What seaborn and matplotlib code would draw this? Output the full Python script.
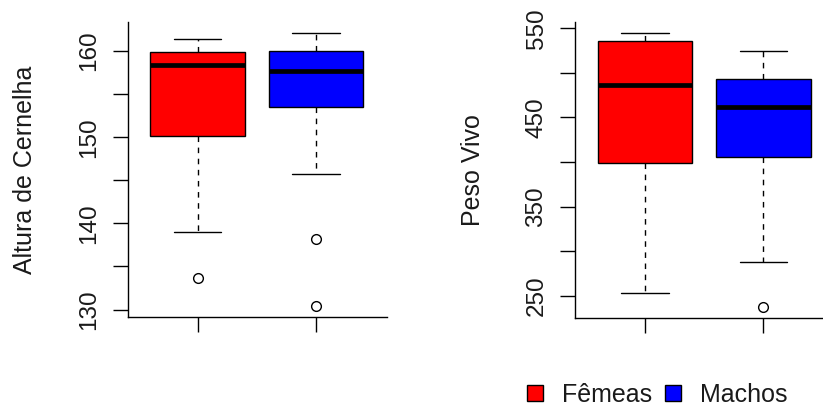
import matplotlib
matplotlib.use("Agg")
import matplotlib.pyplot as plt
from matplotlib.patches import Patch
import seaborn as sns
import pandas as pd

# ---- data (observations reconstructed from the box summaries in the picture) ----
grupos = ["Fêmeas", "Machos"]
cores = ["#FF0000", "#0000FF"]

altura_femeas = [133.7, 139.0, 150.1, 150.1, 158.4, 159.9, 159.9, 161.4, 161.4]
altura_machos = [130.4, 138.2, 145.7, 153.5, 153.5, 153.5, 157.7, 160.0, 160.0,
                 160.0, 162.1, 162.1, 162.1]
peso_femeas = [253.4, 398.8, 486.8, 535.7, 544.7]
peso_machos = [238.0, 288.0, 405.9, 405.9, 462.0, 493.6, 493.6, 524.4, 524.4]

altura_ticks = [130, 135, 140, 145, 150, 155, 160]
altura_labels = ["130", "", "140", "", "150", "", "160"]
peso_ticks = [250, 300, 350, 400, 450, 500, 550]
peso_labels = ["250", "", "350", "", "450", "", "550"]

df_altura = pd.DataFrame({
    "Sexo": [grupos[0]] * len(altura_femeas) + [grupos[1]] * len(altura_machos),
    "valor": altura_femeas + altura_machos,
})
df_peso = pd.DataFrame({
    "Sexo": [grupos[0]] * len(peso_femeas) + [grupos[1]] * len(peso_machos),
    "valor": peso_femeas + peso_machos,
})

sns.set_style("ticks")
plt.rcParams["font.family"] = ["Liberation Sans", "DejaVu Sans"]
TXT = "#1a1a1a"
FS = 18
FS_TICK = 17.5

W, H = 823, 408
fig = plt.figure(figsize=(W / 100, H / 100), dpi=100)
fig.patch.set_facecolor("white")

def px_axes(x0, y_top, w, h):
    return fig.add_axes([x0 / W, (H - y_top - h) / H, w / W, h / H])

ax1 = px_axes(128, 22, 259, 295)
ax2 = px_axes(575.3, 22, 259, 295.7)

box_kws = dict(
    x="Sexo", y="valor", hue="Sexo", palette=cores, order=grupos, hue_order=grupos,
    width=0.8, linewidth=1.0, linecolor="black", legend=False, whis=1.5,
    medianprops=dict(color="black", linewidth=3.4, solid_capstyle="butt"),
    whiskerprops=dict(color="black", linewidth=1.0, linestyle=(0, (4, 4))),
    capprops=dict(color="black", linewidth=1.0),
    boxprops=dict(edgecolor="black", linewidth=1.0),
    flierprops=dict(marker="o", markerfacecolor="none", markeredgecolor="black",
                    markersize=7, markeredgewidth=1.0),
    saturation=1,
)

for ax, df, ticks, labels in [
    (ax1, df_altura, altura_ticks, altura_labels),
    (ax2, df_peso, peso_ticks, peso_labels),
]:
    sns.boxplot(data=df, ax=ax, **box_kws)
    lo, hi = df["valor"].min(), df["valor"].max()
    ext = 0.04 * (hi - lo)
    ax.set_ylim(lo - ext, hi + ext)
    ax.set_xlim(-0.59, 1.60)
    ax.set_yticks(ticks)
    ax.set_yticklabels(labels, rotation=90, va="center", color=TXT, fontsize=FS_TICK)
    ax.set_xticks([0, 1])
    ax.set_xticklabels([])
    ax.set_xlabel("")
    ax.set_ylabel("")
    ax.tick_params(axis="both", direction="out", length=11, width=1.0, color="black")
    ax.tick_params(axis="y", pad=9)
    for s in ["top", "right"]:
        ax.spines[s].set_visible(False)
    for s in ["left", "bottom"]:
        ax.spines[s].set_color("black")
        ax.spines[s].set_linewidth(1.0)
    ax.set_facecolor("white")

fig.text(25.5 / W, (H - 170) / H, "Altura de Cernelha", rotation=90, ha="center",
         va="center", fontsize=FS, color=TXT)
fig.text(473 / W, (H - 170) / H, "Peso Vivo", rotation=90, ha="center",
         va="center", fontsize=FS, color=TXT)

handles = [Patch(facecolor=c, edgecolor="black", linewidth=1.0) for c in cores]
fig.legend(handles, grupos, loc="center left", bbox_to_anchor=(527 / W, (H - 395) / H),
           ncol=2, frameon=False, fontsize=FS, handlelength=0.65, handleheight=0.6,
           handletextpad=0.75, columnspacing=0.5, borderaxespad=0, borderpad=0,
           labelcolor=TXT)

fig.savefig("out.png", dpi=100)
